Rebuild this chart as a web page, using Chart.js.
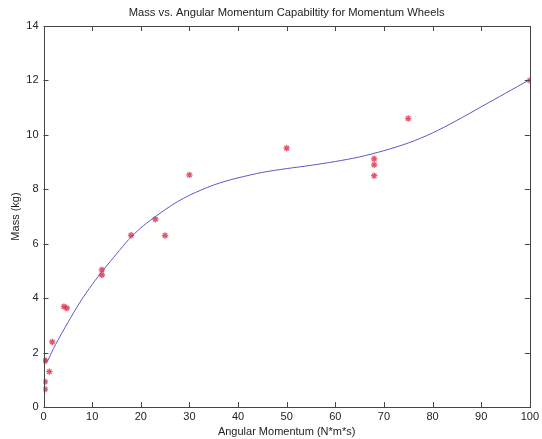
<!DOCTYPE html>
<html><head><meta charset="utf-8">
<script src="https://cdn.jsdelivr.net/npm/chart.js@4/dist/chart.umd.min.js"></script>
<style>html,body{margin:0;padding:0;background:#fff}#wrap{width:542px;height:439px}</style>
</head><body><div id="wrap"><canvas id="c" width="542" height="439"></canvas></div>
<script>
const titleText = 'Mass vs. Angular Momentum Capabiltity for Momentum Wheels';
const xTitle = 'Angular Momentum (N*m*s)';
const yTitle = 'Mass (kg)';
const xTicks = [0,10,20,30,40,50,60,70,80,90,100];
const yTicks = [0,2,4,6,8,10,12,14];
// measured wheels
const wheelMomentum = [0.3,0.3,0.3,0.2,1.2,1.8,4.2,4.8,12,12,18,23,25,30,50,68,68,68,75,100];
const wheelMass     = [0.65,0.93,1.69,1.72,1.3,2.39,3.69,3.63,5.04,4.85,6.31,6.9,6.3,8.53,9.51,9.12,8.9,8.5,10.6,12.0];
// fitted curve
const fitMomentum = [0.8,2.5,5,7.5,10,12.5,15,17.5,20,22.5,25,27.5,30,32.5,35,37.5,40,45,50,55,60,65,70,75,80,85,90,95,100];
const fitMass     = [1.68,2.3,3.1,3.85,4.5,5.08,5.62,6.15,6.58,6.93,7.25,7.54,7.78,7.98,8.16,8.3,8.42,8.62,8.76,8.88,9.02,9.19,9.42,9.7,10.07,10.53,11.03,11.53,12.03];

const scatterPts = wheelMomentum.map((x,i)=>({x, y: wheelMass[i]}));
const fitPts = fitMomentum.map((x,i)=>({x, y: fitMass[i]}));

const boxPlugin = {
  id:'box',
  afterDraw(chart){
    const {ctx, chartArea:a, scales:{x, y}} = chart;
    ctx.save();
    ctx.strokeStyle = '#444';
    ctx.lineWidth = 1;
    ctx.strokeRect(Math.round(a.left)+0.5, Math.round(a.top)+0.5, Math.round(a.right-a.left), Math.round(a.bottom-a.top));
    ctx.beginPath();
    xTicks.forEach(v=>{
      const px = Math.round(x.getPixelForValue(v))+0.5;
      ctx.moveTo(px, a.bottom); ctx.lineTo(px, a.bottom-5);
      ctx.moveTo(px, a.top); ctx.lineTo(px, a.top+5);
    });
    yTicks.forEach(v=>{
      const py = Math.round(y.getPixelForValue(v))+0.5;
      ctx.moveTo(a.left, py); ctx.lineTo(a.left+5, py);
      ctx.moveTo(a.right, py); ctx.lineTo(a.right-5, py);
    });
    ctx.stroke();
    ctx.font = '11.2px "Liberation Sans"';
    ctx.fillStyle = '#222';
    ctx.textAlign = 'center';
    ctx.textBaseline = 'middle';
    ctx.fillText(titleText, (a.left+a.right)/2, 13);
    ctx.restore();
  }
};

new Chart(document.getElementById('c'), {
  type:'scatter',
  data:{datasets:[
    {label:'fit', data: fitPts, showLine:true, borderColor:'#5a5ac8', borderWidth:1, pointRadius:0, tension:0.3, order:2},
    {label:'data', data: scatterPts, showLine:false, pointStyle:'star', pointRadius:3.2, borderColor:'rgba(215,45,70,0.8)', backgroundColor:'rgba(215,45,70,0.8)', borderWidth:1.3, order:1}
  ]},
  options:{
    responsive:false, animation:false,
    layout:{padding:{top:26,right:12,left:9,bottom:0}},
    plugins:{ legend:{display:false}, tooltip:{enabled:false}, title:{display:false} },
    scales:{
      x:{type:'linear', min:0, max:100,
        afterFit(s){ s.height = 32; },
        afterBuildTicks(s){ s.ticks = xTicks.map(v=>({value:v})); },
        grid:{display:false, drawTicks:false}, border:{display:false},
        ticks:{color:'#222', font:{family:'Liberation Sans', size:11}, padding:3, maxRotation:0, autoSkip:false},
        title:{display:true, text:xTitle, color:'#222', font:{family:'Liberation Sans', size:11}, padding:{top:1,bottom:0}}
      },
      y:{type:'linear', min:0, max:14,
        afterFit(s){ s.width = 34.5; },
        afterBuildTicks(s){ s.ticks = yTicks.map(v=>({value:v})); },
        grid:{display:false, drawTicks:false}, border:{display:false},
        ticks:{color:'#222', font:{family:'Liberation Sans', size:11}, padding:5, autoSkip:false},
        title:{display:true, text:yTitle, color:'#222', font:{family:'Liberation Sans', size:11}, padding:{top:0,bottom:0}}
      }
    }
  },
  plugins:[boxPlugin]
});
</script></body></html>
